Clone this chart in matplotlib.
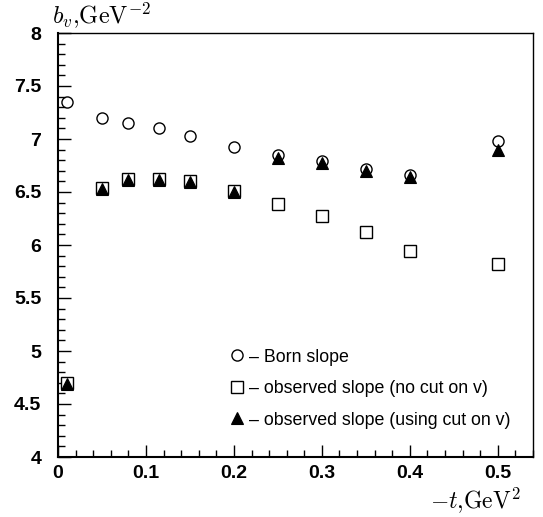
import numpy as np
import matplotlib
matplotlib.use("Agg")
import matplotlib.pyplot as plt
from matplotlib.ticker import MultipleLocator

# ── Data ──────────────────────────────────────────────────────────────────────
t_vals     = [0.01, 0.05, 0.08, 0.115, 0.15, 0.20, 0.25, 0.30, 0.35, 0.40, 0.50]
born_slope = [7.35, 7.20, 7.15, 7.10, 7.03, 6.92, 6.85, 6.79, 6.72, 6.66, 6.98]
obs_nocut  = [4.70, 6.54, 6.62, 6.62, 6.60, 6.51, 6.39, 6.27, 6.12, 5.94, 5.82]
obs_cut    = [4.69, 6.53, 6.61, 6.61, 6.59, 6.50, 6.82, 6.77, 6.70, 6.64, 6.90]

x_ticks  = [0, 0.1, 0.2, 0.3, 0.4, 0.5]
y_ticks  = [4, 4.5, 5, 5.5, 6, 6.5, 7, 7.5, 8]

# ── Style ─────────────────────────────────────────────────────────────────────
plt.rcParams.update({
    "font.family"      : ["Liberation Sans", "DejaVu Sans"],
    "mathtext.fontset" : "cm",
})

fig = plt.figure(figsize=(5.43, 5.17), dpi=100)
ax = fig.add_axes([58 / 543, 1 - 457 / 517, 475 / 543, 424 / 517])

ax.plot(t_vals, obs_nocut, ls="none", marker="s", ms=9, mfc="white",
        mec="black", mew=1.0, label="– observed slope (no cut on v)")
ax.plot(t_vals, born_slope, ls="none", marker="o", ms=8, mfc="none",
        mec="black", mew=1.0, label="– Born slope")
ax.plot(t_vals, obs_cut, ls="none", marker="^", ms=8, mfc="black",
        mec="black", mew=0.8, label="– observed slope (using cut on v)")

ax.set_xlim(0, 0.54)
ax.set_ylim(4, 8)
ax.xaxis.set_minor_locator(MultipleLocator(0.02))
ax.yaxis.set_minor_locator(MultipleLocator(0.1))
ax.set_xticks(x_ticks)
ax.set_xticklabels([f"{v:g}" for v in x_ticks], fontweight="bold", fontsize=14)
ax.set_yticks(y_ticks)
ax.set_yticklabels([f"{v:g}" for v in y_ticks], fontweight="bold", fontsize=14)
ax.tick_params(which="both", direction="in", top=False, right=False, width=1.0)
ax.tick_params(axis="y", which="major", length=9, pad=12)
ax.tick_params(axis="x", which="major", length=9, pad=6)
ax.tick_params(which="minor", length=5)

for side in ["left", "bottom"]:
    ax.spines[side].set_linewidth(1.5)
for side in ["top", "right"]:
    ax.spines[side].set_linewidth(1.0)

fig.text(52 / 543, 1 - 16 / 517, r"$b_v{,}\mathrm{GeV}^{-2}$", fontsize=17.5,
         ha="left", va="center")
fig.text(521 / 543, 1 - 500 / 517, r"$-t{,}\mathrm{GeV}^{2}$", fontsize=17,
         ha="right", va="center")

handles, labels = ax.get_legend_handles_labels()
order = [1, 0, 2]
leg = ax.legend([handles[i] for i in order], [labels[i] for i in order],
                loc="lower left", bbox_to_anchor=(0.347, 0.050), frameon=False,
                fontsize=12.8, handlelength=0.8, handletextpad=0.3,
                labelspacing=0.82, borderaxespad=0)

fig.savefig("out.png", dpi=100)
